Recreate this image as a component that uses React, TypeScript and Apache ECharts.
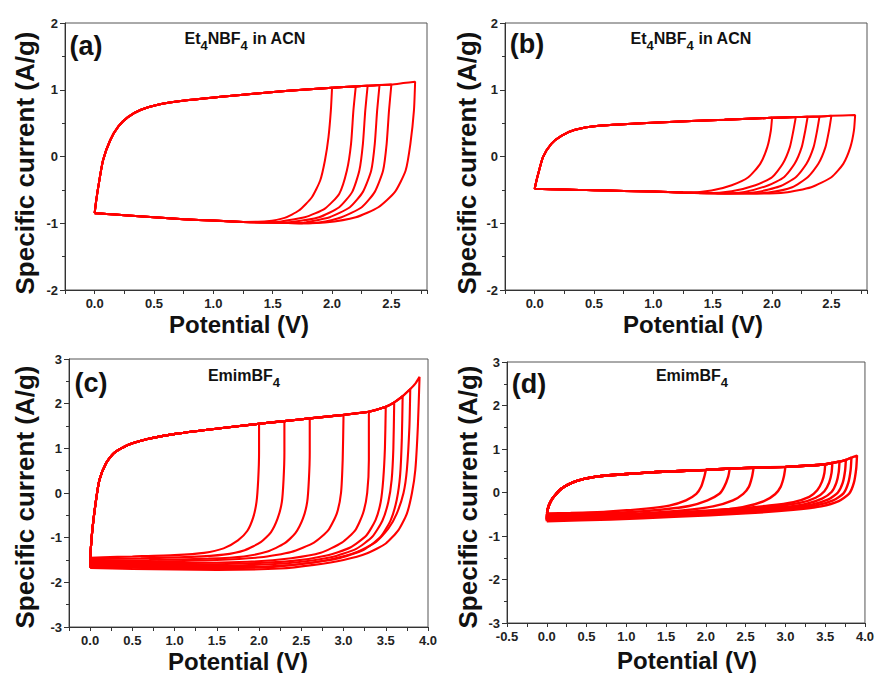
import React, { useEffect, useRef } from 'react';
import * as echarts from 'echarts';

type P = [number, number];

// ---------- Panel (a): Et4NBF4 in ACN ----------
const aForward: P[] = [
  [0.01, -0.7], [0.03, -0.46], [0.07, -0.06], [0.13, 0.24], [0.2, 0.45], [0.28, 0.59],
  [0.39, 0.7], [0.54, 0.78], [0.76, 0.84], [1.04, 0.89], [1.46, 0.96], [1.75, 1.0],
  [2.0, 1.03], [2.2, 1.05], [2.3, 1.06], [2.4, 1.07], [2.5, 1.08], [2.6, 1.1],
];
const aLower: P[] = [
  [1.75, -1.0], [1.5, -0.99], [1.25, -0.98], [1.0, -0.96], [0.75, -0.94], [0.5, -0.91],
  [0.25, -0.88], [0.1, -0.86], [0, -0.85],
];
const aReturns: P[][] = [
  [[2.0, 1.03], [1.99, 0.69], [1.97, 0.29], [1.94, -0.06], [1.9, -0.36], [1.83, -0.61], [1.72, -0.81], [1.6, -0.92], [1.45, -0.97]],
  [[2.2, 1.05], [2.18, 0.69], [2.16, 0.19], [2.125, -0.21], [2.06, -0.56], [1.94, -0.78], [1.77, -0.91], [1.58, -0.97]],
  [[2.3, 1.06], [2.28, 0.69], [2.26, 0.19], [2.23, -0.21], [2.17, -0.53], [2.06, -0.76], [1.89, -0.91], [1.66, -0.98]],
  [[2.4, 1.07], [2.38, 0.69], [2.36, 0.19], [2.33, -0.21], [2.26, -0.53], [2.15, -0.76], [1.98, -0.91], [1.77, -0.99]],
  [[2.5, 1.08], [2.48, 0.69], [2.46, 0.19], [2.43, -0.21], [2.36, -0.53], [2.25, -0.76], [2.08, -0.91], [1.89, -0.99]],
  [[2.7, 1.12], [2.69, 0.69], [2.66, 0.19], [2.62, -0.21], [2.53, -0.53], [2.39, -0.76], [2.2, -0.91], [1.94, -0.99]],
];

// ---------- Panel (b): Et4NBF4 in ACN ----------
const bForward: P[] = [
  [0.01, -0.4], [0.03, -0.26], [0.07, -0.01], [0.14, 0.19], [0.225, 0.31], [0.34, 0.4],
  [0.54, 0.46], [1.04, 0.51], [1.6, 0.55], [2.0, 0.58], [2.2, 0.59], [2.3, 0.595],
  [2.4, 0.6], [2.5, 0.61],
];
const bLower: P[] = [
  [1.75, -0.555], [1.5, -0.55], [1.25, -0.54], [1.0, -0.525], [0.75, -0.515], [0.5, -0.505],
  [0.25, -0.495], [0, -0.485],
];
const bReturns: P[][] = [
  [[2.0, 0.58], [1.99, 0.39], [1.96, 0.14], [1.9, -0.11], [1.8, -0.31], [1.66, -0.43], [1.49, -0.51], [1.3, -0.54]],
  [[2.2, 0.59], [2.18, 0.39], [2.15, 0.14], [2.09, -0.11], [2.0, -0.31], [1.86, -0.43], [1.66, -0.52], [1.45, -0.55]],
  [[2.3, 0.595], [2.28, 0.39], [2.25, 0.14], [2.19, -0.11], [2.1, -0.31], [1.97, -0.43], [1.77, -0.53], [1.55, -0.555]],
  [[2.4, 0.6], [2.38, 0.39], [2.35, 0.14], [2.29, -0.11], [2.2, -0.31], [2.06, -0.45], [1.88, -0.53], [1.65, -0.555]],
  [[2.5, 0.61], [2.48, 0.39], [2.45, 0.14], [2.39, -0.11], [2.3, -0.31], [2.17, -0.46], [1.97, -0.54], [1.8, -0.555]],
  [[2.7, 0.62], [2.69, 0.39], [2.66, 0.14], [2.6, -0.11], [2.5, -0.31], [2.33, -0.46], [2.11, -0.54], [1.9, -0.555]],
];

// ---------- Panel (c): EmimBF4 ----------
const cForward: P[] = [
  [0.01, -1.2], [0.03, -0.76], [0.07, -0.16], [0.11, 0.29], [0.19, 0.67], [0.28, 0.89],
  [0.44, 1.07], [0.68, 1.21], [1.07, 1.34], [1.54, 1.45], [2.0, 1.55], [2.3, 1.61],
  [2.6, 1.67], [3.0, 1.75], [3.3, 1.82], [3.5, 1.93], [3.6, 2.03], [3.7, 2.17],
  [3.79, 2.33], [3.85, 2.45],
];
const cReturns: P[][] = [
  [[2.0, 1.55], [2.0, 0.9], [1.99, 0.3], [1.97, -0.2], [1.93, -0.55], [1.86, -0.85], [1.75, -1.06], [1.58, -1.24], [1.35, -1.34], [1.0, -1.39], [0.5, -1.42], [0.15, -1.44], [0, -1.45]],
  [[2.3, 1.61], [2.3, 0.9], [2.29, 0.3], [2.27, -0.2], [2.22, -0.57], [2.14, -0.88], [2.02, -1.1], [1.83, -1.28], [1.58, -1.38], [1.2, -1.43], [0.6, -1.46], [0, -1.48]],
  [[2.6, 1.67], [2.6, 0.9], [2.59, 0.3], [2.57, -0.2], [2.52, -0.57], [2.43, -0.9], [2.3, -1.13], [2.1, -1.31], [1.82, -1.42], [1.4, -1.47], [0.7, -1.5], [0, -1.51]],
  [[3.0, 1.75], [2.99, 0.74], [2.97, 0], [2.92, -0.46], [2.82, -0.83], [2.65, -1.11], [2.38, -1.32], [2.02, -1.44], [1.5, -1.5], [0.8, -1.53], [0, -1.54]],
  [[3.3, 1.82], [3.3, 0.74], [3.28, 0], [3.23, -0.46], [3.14, -0.83], [2.98, -1.11], [2.73, -1.34], [2.38, -1.46], [1.86, -1.54], [1.0, -1.57], [0, -1.57]],
  [[3.5, 1.93], [3.49, 1.0], [3.47, 0.3], [3.44, -0.2], [3.38, -0.6], [3.27, -0.95], [3.08, -1.22], [2.8, -1.4], [2.4, -1.52], [1.8, -1.58], [1.0, -1.6], [0, -1.6]],
  [[3.6, 2.03], [3.59, 1.0], [3.57, 0.3], [3.53, -0.2], [3.46, -0.62], [3.34, -0.98], [3.15, -1.25], [2.85, -1.44], [2.4, -1.56], [1.8, -1.62], [1.0, -1.63], [0, -1.62]],
  [[3.7, 2.17], [3.69, 1.2], [3.67, 0.4], [3.63, -0.15], [3.56, -0.6], [3.44, -0.98], [3.24, -1.27], [2.92, -1.47], [2.45, -1.6], [1.8, -1.66], [1.0, -1.66], [0, -1.64]],
  [[3.79, 2.33], [3.78, 1.49], [3.75, 0.52], [3.71, 0], [3.63, -0.46], [3.53, -0.8], [3.38, -1.1], [3.16, -1.32], [2.88, -1.47], [2.53, -1.58], [2.14, -1.66], [1.2, -1.69], [0, -1.66]],
  [[3.9, 2.6], [3.88, 1.49], [3.85, 0.52], [3.81, 0], [3.75, -0.46], [3.65, -0.83], [3.5, -1.13], [3.28, -1.35], [3.0, -1.5], [2.65, -1.61], [2.25, -1.69], [1.5, -1.72], [0.5, -1.7], [0, -1.68]],
];

// ---------- Panel (d): EmimBF4 ----------
const dForward: P[] = [
  [0.01, -0.42], [0.02, -0.33], [0.04, -0.24], [0.07, -0.14], [0.11, -0.05], [0.16, 0.05],
  [0.22, 0.13], [0.3, 0.21], [0.4, 0.28], [0.54, 0.34], [0.75, 0.39], [0.96, 0.42],
  [1.38, 0.47], [2.0, 0.52], [2.3, 0.55], [2.6, 0.57], [3.0, 0.59], [3.3, 0.62],
  [3.5, 0.65], [3.59, 0.68], [3.68, 0.71], [3.76, 0.75], [3.83, 0.8],
];
const dReturns: P[][] = [
  [[2.0, 0.52], [1.98, 0.36], [1.94, 0.13], [1.88, -0.03], [1.75, -0.18], [1.54, -0.3], [1.25, -0.37], [0.75, -0.44], [0.3, -0.47], [0, -0.48]],
  [[2.3, 0.55], [2.28, 0.36], [2.23, 0.13], [2.17, -0.03], [2.02, -0.18], [1.79, -0.31], [1.46, -0.39], [0.96, -0.46], [0.4, -0.5], [0, -0.52]],
  [[2.6, 0.57], [2.58, 0.36], [2.54, 0.13], [2.47, -0.03], [2.34, -0.18], [2.09, -0.32], [1.71, -0.41], [1.17, -0.48], [0.5, -0.53], [0, -0.55]],
  [[3.0, 0.59], [2.98, 0.36], [2.94, 0.13], [2.87, -0.04], [2.73, -0.2], [2.46, -0.34], [2.09, -0.42], [1.5, -0.5], [0.7, -0.55], [0, -0.58]],
  [[3.5, 0.65], [3.49, 0.45], [3.46, 0.25], [3.4, 0.05], [3.3, -0.1], [3.1, -0.22], [2.8, -0.3], [2.3, -0.38], [1.6, -0.46], [0.8, -0.54], [0, -0.6]],
  [[3.59, 0.68], [3.58, 0.45], [3.55, 0.23], [3.49, 0.03], [3.38, -0.12], [3.18, -0.24], [2.87, -0.32], [2.35, -0.4], [1.6, -0.48], [0.8, -0.56], [0, -0.61]],
  [[3.68, 0.71], [3.67, 0.47], [3.64, 0.22], [3.58, 0.01], [3.46, -0.14], [3.26, -0.26], [2.95, -0.34], [2.4, -0.42], [1.6, -0.5], [0.8, -0.57], [0, -0.62]],
  [[3.76, 0.75], [3.75, 0.5], [3.72, 0.22], [3.66, 0], [3.54, -0.16], [3.33, -0.28], [3.0, -0.36], [2.45, -0.44], [1.6, -0.52], [0.8, -0.58], [0, -0.63]],
  [[3.83, 0.8], [3.82, 0.52], [3.79, 0.22], [3.73, -0.02], [3.6, -0.18], [3.38, -0.3], [3.05, -0.38], [2.5, -0.46], [1.6, -0.54], [0.8, -0.6], [0, -0.64]],
  [[3.9, 0.85], [3.89, 0.55], [3.86, 0.22], [3.8, -0.03], [3.67, -0.2], [3.45, -0.32], [3.1, -0.4], [2.5, -0.48], [1.6, -0.56], [0.8, -0.62], [0, -0.66]],
];

// ---------- Tick labels ----------
const xLabelsAB = [0, 0.5, 1, 1.5, 2, 2.5];
const xLabelsC = [0, 0.5, 1, 1.5, 2, 2.5, 3, 3.5, 4];
const xLabelsD = [-0.5, 0, 0.5, 1, 1.5, 2, 2.5, 3, 3.5, 4];
const yLabelsAB = [-2, -1, 0, 1, 2];
const yLabelsCD = [-3, -2, -1, 0, 1, 2, 3];

const panelLetters = ['(a)', '(b)', '(c)', '(d)'];
const panelTitles = ['Et{s|4}NBF{s|4} in ACN', 'Et{s|4}NBF{s|4} in ACN', 'EmimBF{s|4}', 'EmimBF{s|4}'];
const xName = 'Potential (V)';
const yName = 'Specific current (A/g)';

const FONT = '"Liberation Sans", Arial, Helvetica, sans-serif';
const RED = '#ff0000';
const AX = '#333333';

function buildLoop(forward: P[], ret: P[], lower: P[] = []): P[] {
  const vE = ret[0][0];
  const lastE = ret[ret.length - 1][0];
  const back: P[] = [...ret, ...lower.filter((p) => p[0] < lastE - 1e-9)];
  const end = back[back.length - 1];
  return [end, ...forward.filter((p) => p[0] < vE - 1e-9), ...back];
}

const has = (list: number[], v: number) => list.some((l) => Math.abs(l - v) < 1e-6);

export default function App() {
  const ref = useRef<HTMLDivElement>(null);

  useEffect(() => {
    if (!ref.current) return;
    const chart = echarts.init(ref.current, undefined, { renderer: 'svg' });

    const grids = [
      { left: 65, top: 23, width: 362, height: 267 },
      { left: 505, top: 23, width: 362, height: 267 },
      { left: 69, top: 359, width: 359, height: 268 },
      { left: 507, top: 362, width: 359, height: 261 },
    ];
    const xCfg = [
      { min: -0.25, max: 2.8, interval: 0.25, labels: xLabelsAB },
      { min: -0.25, max: 2.8, interval: 0.25, labels: xLabelsAB },
      { min: -0.25, max: 4, interval: 0.25, labels: xLabelsC },
      { min: -0.5, max: 4, interval: 0.25, labels: xLabelsD },
    ];
    const yCfg = [
      { min: -2, max: 2, labels: yLabelsAB },
      { min: -2, max: 2, labels: yLabelsAB },
      { min: -3, max: 3, labels: yLabelsCD },
      { min: -3, max: 3, labels: yLabelsCD },
    ];
    const lineWidths = [2, 2, 2.1, 2.4];

    const labelStyle = { fontSize: 13, fontWeight: 'bold' as const, color: '#222', fontFamily: FONT };

    const xAxis = xCfg.map((c, i) => ({
      type: 'value',
      gridIndex: i,
      min: c.min,
      max: c.max,
      interval: c.interval,
      axisLine: { show: true, onZero: false, lineStyle: { color: AX, width: 1 } },
      axisTick: { show: true, inside: false, length: 4, lineStyle: { color: AX } },
      axisLabel: {
        ...labelStyle,
        margin: 7,
        showMinLabel: true,
        showMaxLabel: true,
        formatter: (v: number) => (has(c.labels, v) ? v.toFixed(1) : ''),
      },
      splitLine: { show: false },
    }));

    const yAxis = yCfg.map((c, i) => ({
      type: 'value',
      gridIndex: i,
      min: c.min,
      max: c.max,
      interval: 1,
      axisLine: { show: true, onZero: false, lineStyle: { color: AX, width: 1 } },
      axisTick: { show: true, inside: false, length: 5, lineStyle: { color: AX } },
      minorTick: { show: true, splitNumber: 2, length: 3, lineStyle: { color: AX } },
      axisLabel: {
        ...labelStyle,
        margin: 7,
        showMinLabel: true,
        showMaxLabel: true,
        formatter: (v: number) => (has(c.labels, v) ? String(Math.round(v)) : ''),
      },
      splitLine: { show: false },
      minorSplitLine: { show: false },
    }));

    const panels: { fwd: P[]; rets: P[][]; low?: P[] }[] = [
      { fwd: aForward, rets: aReturns, low: aLower },
      { fwd: bForward, rets: bReturns, low: bLower },
      { fwd: cForward, rets: cReturns },
      { fwd: dForward, rets: dReturns },
    ];

    const series: any[] = [];
    panels.forEach((p, i) => {
      p.rets.forEach((r) => {
        series.push({
          type: 'line',
          xAxisIndex: i,
          yAxisIndex: i,
          data: buildLoop(p.fwd, r, p.low || []),
          showSymbol: false,
          symbol: 'none',
          smooth: 0.2,
          lineStyle: { color: RED, width: lineWidths[i] },
          silent: true,
        });
      });
    });

    const letterPos = [
      [86, 46],
      [527, 44],
      [91, 383],
      [529, 384],
    ];
    const titlePos = [
      [245, 30],
      [691, 30],
      [244, 367],
      [692, 367],
    ];
    const yNamePos = [
      [25, 163],
      [467, 163],
      [25, 497],
      [468, 497],
    ];
    const xNamePos = [
      [239, 324],
      [693, 324],
      [238, 661],
      [687, 660],
    ];

    const graphic: any[] = [];
    for (let i = 0; i < 4; i++) {
      graphic.push({
        type: 'text',
        x: letterPos[i][0],
        y: letterPos[i][1],
        style: {
          text: panelLetters[i],
          fontSize: 27,
          fontWeight: 'bold',
          fontFamily: FONT,
          fill: '#111',
          align: 'center',
          verticalAlign: 'middle',
        },
      });
      graphic.push({
        type: 'text',
        x: titlePos[i][0],
        y: titlePos[i][1],
        style: {
          text: '{m|' + panelTitles[i].replace(/\{s\|4\}/g, '}{s|4}{m|') + '}',
          fontFamily: FONT,
          fill: '#111',
          align: 'center',
          verticalAlign: 'top',
          rich: {
            m: { fontSize: 16, fontWeight: 'bold', fontFamily: FONT, fill: '#111', lineHeight: 22, verticalAlign: 'top' },
            s: { fontSize: 13, fontWeight: 'bold', fontFamily: FONT, fill: '#111', lineHeight: 22, verticalAlign: 'bottom' },
          },
        },
      });
      graphic.push({
        type: 'text',
        x: yNamePos[i][0],
        y: yNamePos[i][1],
        rotation: Math.PI / 2,
        style: {
          text: yName,
          fontSize: 26,
          fontWeight: 'bold',
          fontFamily: FONT,
          fill: '#111',
          align: 'center',
          verticalAlign: 'middle',
        },
      });
      graphic.push({
        type: 'text',
        x: xNamePos[i][0],
        y: xNamePos[i][1],
        style: {
          text: xName,
          fontSize: 24,
          fontWeight: 'bold',
          fontFamily: FONT,
          fill: '#111',
          align: 'center',
          verticalAlign: 'middle',
        },
      });
    }

    chart.setOption({
      animation: false,
      backgroundColor: '#ffffff',
      grid: grids.map((g) => ({ ...g, show: true, borderColor: '#555', borderWidth: 1, backgroundColor: 'transparent' })),
      xAxis,
      yAxis,
      series,
      graphic,
    });

    return () => chart.dispose();
  }, []);

  return (
    <div
      ref={ref}
      style={{ position: 'absolute', left: 0, top: 0, width: 877, height: 673, background: '#fff' }}
    />
  );
}
